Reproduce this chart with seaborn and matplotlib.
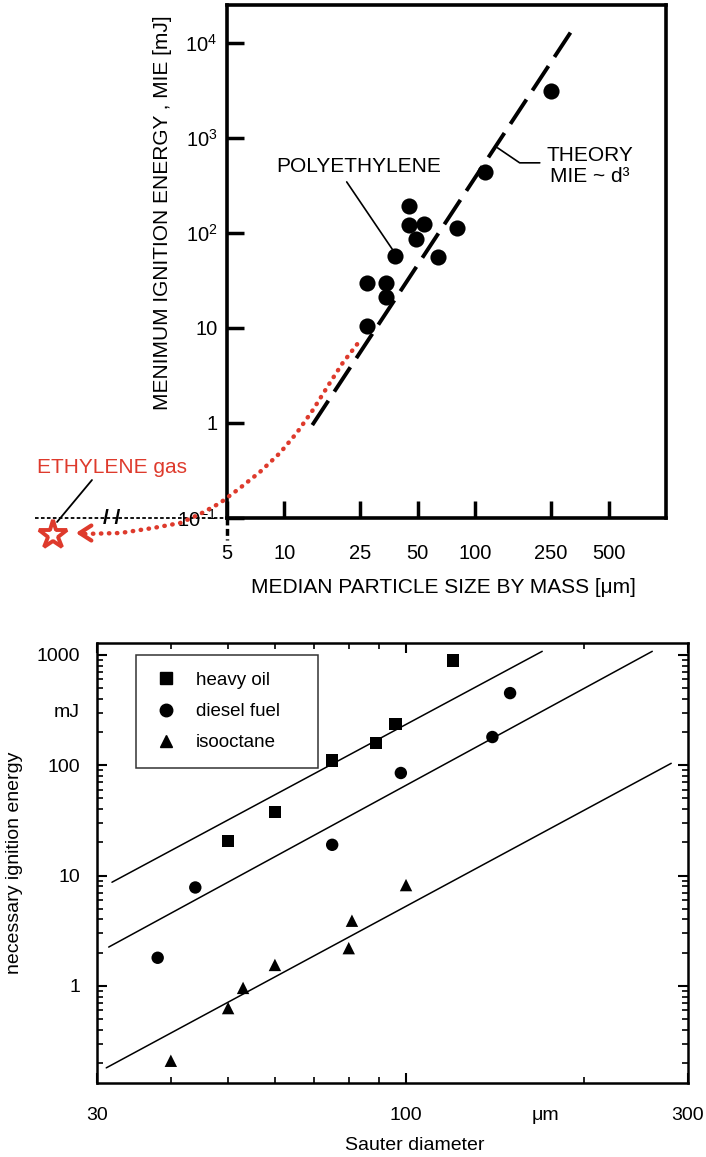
import matplotlib
matplotlib.use("Agg")
import matplotlib.pyplot as plt
import seaborn as sns
import pandas as pd
from matplotlib.lines import Line2D
from matplotlib.ticker import LogLocator, NullLocator, NullFormatter, FixedLocator

# Ust grafik: polietilen tozu, MIE - parcacik boyutu
pe_size = [27, 34, 34, 27, 38, 64, 49, 45, 54, 45, 80, 113, 250]
pe_mie = [10.5, 21, 30, 30, 57, 56, 87, 120, 124, 190, 113, 440, 3100]

# teori cizgisi MIE ~ d^3 (uc noktalari)
theory_size = [14, 325]
theory_mie = [0.95, 14000]

# etilen gazina inen kirmizi egri
ethylene_size = [0.9, 1.38, 2.05, 2.84, 3.61, 4.6, 5.85, 7.44, 9.47, 11.6, 14.1, 17.3, 20.2, 24.8]
ethylene_mie = [0.068, 0.0695, 0.0785, 0.0886, 0.110, 0.144, 0.207, 0.305, 0.483, 0.785,
                1.37, 2.64, 4.28, 7.3]
ethylene_gas_size = [0.614]
ethylene_gas_mie = [0.066]

top_xticks = [5, 10, 25, 50, 100, 250, 500]
top_yticks = [0.1, 1, 10, 100, 1000, 10000]
top_ylabels = ['$10^{-1}$', '1', '10', '$10^2$', '$10^3$', '$10^4$']

# Alt grafik: sivi yakit spreyleri
heavy_d = [50, 60, 75, 89, 96, 120]
heavy_e = [20.5, 37.5, 110, 158, 235, 890]
diesel_d = [38, 44, 75, 98, 140, 150]
diesel_e = [1.8, 7.8, 19, 85, 180, 450]
iso_d = [40, 50, 53, 60, 80, 81, 100]
iso_e = [0.21, 0.63, 0.96, 1.55, 2.2, 3.9, 8.2]
fuels = ['heavy oil', 'diesel fuel', 'isooctane']

# uc paralel egilim cizgisi
fit_d = [[31.8, 170], [31.4, 261], [31.1, 281]]
fit_e = [[8.7, 1076], [2.25, 1076], [0.181, 104]]

bottom_xticks = [30, 100, 300]
bottom_xminor = [40, 50, 60, 70, 80, 90, 200]

RED = '#de3a2c'

sns.set_theme(style="ticks")
plt.rcParams['font.family'] = ['Liberation Sans', 'DejaVu Sans']
plt.rcParams['mathtext.fontset'] = 'custom'
plt.rcParams['mathtext.rm'] = 'Liberation Sans'
plt.rcParams['mathtext.it'] = 'Liberation Sans:italic'
for key in ['text.color', 'axes.labelcolor', 'xtick.color', 'ytick.color', 'axes.edgecolor']:
    plt.rcParams[key] = 'black'

fig = plt.figure(figsize=(7.06, 11.57), dpi=100)

# ---------------- ust grafik ----------------
ax1 = fig.add_axes([227 / 706, (1157 - 518) / 1157, 439 / 706, 513 / 1157])
ax1.set_xscale('log')
ax1.set_yscale('log')
ax1.set_xlim(5, 1000)
ax1.set_ylim(0.1, 25000)

sns.lineplot(x=theory_size, y=theory_mie, ax=ax1, color='black', lw=2.8,
             linestyle=(0, (7.5, 2.8)), zorder=2)
sns.lineplot(x=ethylene_size, y=ethylene_mie, ax=ax1, color=RED, lw=3.2, sort=False,
             linestyle=(0, (0.1, 1.7)), dash_capstyle='round', clip_on=False, zorder=4)
sns.scatterplot(x=pe_size, y=pe_mie, ax=ax1, color='black', s=135, linewidth=0, zorder=3)
ax1.plot(ethylene_gas_size, ethylene_gas_mie, marker='*', ms=21, mfc='white', mec=RED,
         mew=2.8, clip_on=False, zorder=5)

# ok ucu
ax1.annotate('', xy=(0.78, 0.0695), xytext=(0.92, 0.0695), annotation_clip=False,
             arrowprops=dict(arrowstyle='->,head_length=0.7,head_width=0.45',
                             color=RED, lw=3.0))

# kesik eksen uzantilari
ax1.plot([0.49, 5], [0.1, 0.1], color='black', lw=1.3, linestyle=(0, (2, 1.3)),
         clip_on=False, zorder=1)
ax1.plot([5, 5], [0.1, 0.0586], color='black', lw=2.5, linestyle=(0, (2, 1)),
         clip_on=False)
ax1.text(1.24, 0.1, '/ /', fontsize=15, fontweight='bold', ha='center', va='center',
         clip_on=False)

# aciklamalar
ax1.text(24.6, 495, 'POLYETHYLENE', fontsize=15, ha='center', va='center')
ax1.plot([21.2, 37], [344, 66], color='black', lw=1.2)
ax1.text(398, 507, 'THEORY\nMIE ~ d³', fontsize=15, ha='center', va='center',
         multialignment='center', linespacing=1.15)
ax1.plot([131, 171, 218], [785, 546, 546], color='black', lw=1.2)
ax1.text(1.25, 0.336, 'ETHYLENE gas', fontsize=15, color=RED, ha='center', va='center',
         clip_on=False)
ax1.plot([0.98, 0.643], [0.251, 0.0908], color='black', lw=1.3, clip_on=False)

ax1.xaxis.set_major_locator(FixedLocator(top_xticks))
ax1.set_xticklabels([str(t) for t in top_xticks])
ax1.yaxis.set_major_locator(FixedLocator(top_yticks))
ax1.set_yticklabels(top_ylabels)
ax1.xaxis.set_minor_locator(NullLocator())
ax1.yaxis.set_minor_locator(NullLocator())
ax1.tick_params(direction='in', length=12, width=2.5, labelsize=14.5)
ax1.tick_params(axis='x', pad=19)
ax1.tick_params(axis='y', pad=7)
for sp in ax1.spines.values():
    sp.set_linewidth(2.6)

ax1.set_xlabel('MEDIAN PARTICLE SIZE BY MASS [μm]', fontsize=15)
ax1.xaxis.set_label_coords(0.492, -0.117)
ax1.set_ylabel('MENIMUM IGNITION ENERGY , MIE [mJ]', fontsize=15)
ax1.yaxis.set_label_coords(-0.125, 0.595)

# ---------------- alt grafik ----------------
ax2 = fig.add_axes([97 / 706, 74 / 1157, 591 / 706, 440 / 1157])
ax2.set_xscale('log')
ax2.set_yscale('log')
ax2.set_xlim(30, 300)
ax2.set_ylim(0.132, 1280)

for xs, ys in zip(fit_d, fit_e):
    sns.lineplot(x=xs, y=ys, ax=ax2, color='black', lw=1.1)

df = pd.DataFrame({
    'd': heavy_d + diesel_d + iso_d,
    'e': heavy_e + diesel_e + iso_e,
    'fuel': [fuels[0]] * len(heavy_d) + [fuels[1]] * len(diesel_d) + [fuels[2]] * len(iso_d),
})
markers = {'heavy oil': 's', 'diesel fuel': 'o', 'isooctane': '^'}
sns.scatterplot(data=df, x='d', y='e', style='fuel', markers=markers, color='black',
                s=80, linewidth=0, ax=ax2, legend=False, zorder=3)

handles = [Line2D([], [], marker=markers[f], color='black', ls='none', ms=9) for f in fuels]
leg = ax2.legend(handles, fuels, loc='upper left', bbox_to_anchor=(0.066, 0.973, 0.308, 0.0),
                 mode='expand', borderaxespad=0, fontsize=13.5, frameon=True, fancybox=False,
                 edgecolor='black', borderpad=0.9, handlelength=1.4, handletextpad=0.9,
                 labelspacing=0.75)
leg.get_frame().set_linewidth(1.1)

ax2.xaxis.set_major_locator(FixedLocator(bottom_xticks))
ax2.set_xticklabels([str(t) for t in bottom_xticks])
ax2.xaxis.set_minor_locator(FixedLocator(bottom_xminor))
ax2.xaxis.set_minor_formatter(NullFormatter())
ax2.yaxis.set_minor_locator(LogLocator(base=10, subs=range(2, 10), numticks=10))
ax2.yaxis.set_minor_formatter(NullFormatter())
ax2.set_yticks([1, 10, 100, 1000])
ax2.set_yticklabels(['1', '10', '100', '1000'])
ax2.tick_params(which='both', direction='in', top=True, right=True, labelsize=14)
ax2.tick_params(which='major', length=7, width=1.5)
ax2.tick_params(which='minor', length=4, width=1.2)
ax2.tick_params(axis='x', pad=17)
ax2.tick_params(axis='y', pad=12)
for sp in ax2.spines.values():
    sp.set_linewidth(1.8)

ax2.text(172, -0.0545, 'μm', transform=ax2.get_xaxis_transform(), ha='center', va='top',
         fontsize=14)
ax2.text(-0.0288, 300, 'mJ', transform=ax2.get_yaxis_transform(), ha='right',
         va='center', fontsize=14)

ax2.set_xlabel('Sauter diameter', fontsize=14)
ax2.xaxis.set_label_coords(0.538, -0.123)
ax2.set_ylabel('necessary ignition energy', fontsize=14)
ax2.yaxis.set_label_coords(-0.125, 0.5)

fig.savefig('out.png', dpi=100)
